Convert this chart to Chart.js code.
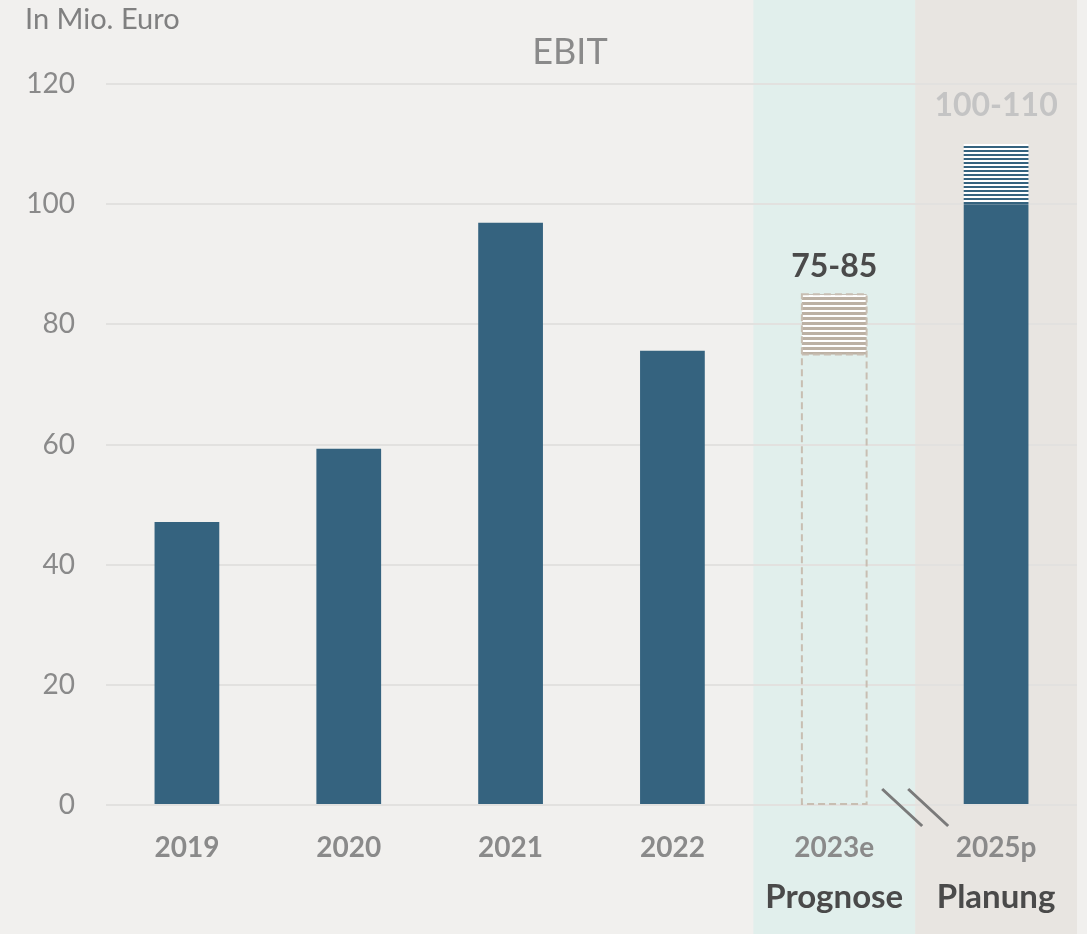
<!DOCTYPE html>
<html>
<head>
<meta charset="utf-8">
<script src="https://cdn.jsdelivr.net/npm/chart.js@4.4.0/dist/chart.umd.min.js"></script>
<style>
    body { margin: 0; background: #f1f0ee; }
    #ebit-wrap { width: 1087px; height: 934px; }
</style>
</head>
<body>
<div id="ebit-wrap"><canvas id="ebit-chart" width="1087" height="934"></canvas></div>
<script>
var years = ['2019', '2020', '2021', '2022', '2023e', '2025p'];
var yearNotes = ['', '', '', '', 'Prognose', 'Planung'];
var ebitValues = [47.1, 59.3, 96.9, 75.6, 75, 100];
var rangeLow = [null, null, null, null, 75, 100];
var rangeHigh = [null, null, null, null, 85, 110];
var rangeLabels = ['', '', '', '', '75-85', '100-110'];
var yTicks = [0, 20, 40, 60, 80, 100, 120];

var EbitChart;

function MakeStripes(fg, bg, fgSize, period) {
    var c = document.createElement('canvas');
    c.width = 8;
    c.height = period;
    var g = c.getContext('2d');
    g.fillStyle = bg;
    g.fillRect(0, 0, 8, period);
    g.fillStyle = fg;
    g.fillRect(0, period - fgSize, 8, fgSize);
    return document.getElementById('ebit-chart').getContext('2d').createPattern(c, 'repeat');
}

// background bands behind Prognose / Planung columns
var bandsPlugin = {
    id: 'bands',
    beforeDraw: function (chart) {
        var ctx = chart.ctx;
        var x = chart.scales.x;
        var step = x.getPixelForValue(1) - x.getPixelForValue(0);
        ctx.save();
        ctx.fillStyle = '#f1f0ee';
        ctx.fillRect(0, 0, chart.width, chart.height);
        ctx.fillStyle = '#e1efec';
        ctx.fillRect(x.getPixelForValue(4) - step / 2, 0, step, chart.height);
        ctx.fillStyle = '#e8e5e1';
        ctx.fillRect(x.getPixelForValue(5) - step / 2, 0, step, chart.height);
        ctx.restore();
    }
};

var extrasPlugin = {
    id: 'extras',
    afterDatasetsDraw: function (chart) {
        var ctx = chart.ctx;
        var baseBar = chart.getDatasetMeta(0).data[4];
        var topBar = chart.getDatasetMeta(1).data[4];
        var left = baseBar.x - baseBar.width / 2;

        // dashed outline for the 2023e forecast
        ctx.save();
        ctx.strokeStyle = '#c8beb2';
        ctx.lineWidth = 2;
        ctx.setLineDash([7, 4]);
        ctx.strokeRect(left, topBar.y, baseBar.width, baseBar.base - topBar.y);
        ctx.beginPath();
        ctx.moveTo(left, baseBar.y);
        ctx.lineTo(left + baseBar.width, baseBar.y);
        ctx.stroke();
        ctx.restore();

        // range labels
        ctx.save();
        ctx.textAlign = 'center';
        ctx.textBaseline = 'middle';
        ctx.font = 'bold 32px Lato';
        var meta = chart.getDatasetMeta(1);
        rangeLabels.forEach(function (txt, i) {
            if (!txt) return;
            var bar = meta.data[i];
            ctx.fillStyle = i === 4 ? '#4a4a4a' : '#c4c4c4';
            ctx.fillText(txt, bar.x, bar.y - (i === 4 ? 28 : 38));
        });
        ctx.restore();

        // axis break marks between 2023e and 2025p
        var x = chart.scales.x;
        var y = chart.scales.y;
        var bx = (x.getPixelForValue(4) + x.getPixelForValue(5)) / 2;
        var by = y.getPixelForValue(0);
        ctx.save();
        ctx.strokeStyle = '#7a7a7a';
        ctx.lineWidth = 3;
        ctx.beginPath();
        ctx.moveTo(bx - 33, by - 16);
        ctx.lineTo(bx + 7, by + 21);
        ctx.moveTo(bx - 7, by - 16);
        ctx.lineTo(bx + 33, by + 21);
        ctx.stroke();
        ctx.restore();

        // title and unit
        ctx.save();
        ctx.textBaseline = 'middle';
        ctx.fillStyle = '#8a8a8a';
        ctx.font = '36px Lato';
        ctx.textAlign = 'center';
        ctx.fillText('EBIT', 570, 52);
        ctx.fillStyle = '#808080';
        ctx.font = '29px Lato';
        ctx.textAlign = 'left';
        ctx.fillText('In Mio. Euro', 25, 20);
        ctx.restore();
    }
};

function LoadEbitChart() {
    var navy = '#35637f';
    var rangeDiff = rangeHigh.map(function (v, i) {
        return v === null ? null : v - rangeLow[i];
    });
    var baseColors = ebitValues.map(function (v, i) {
        return i === 4 ? 'rgba(0,0,0,0)' : navy;
    });
    var rangeColors = [null, null, null, null,
        MakeStripes('#bcb1a4', '#ffffff', 3, 5),
        MakeStripes(navy, '#ffffff', 2, 4)];

    var ctx = document.getElementById('ebit-chart');
    if (EbitChart) {
        EbitChart.destroy();
    }
    EbitChart = new Chart(ctx, {
        type: 'bar',
        data: {
            labels: years,
            datasets: [{
                label: 'EBIT',
                data: ebitValues,
                backgroundColor: baseColors,
                borderWidth: 0
            }, {
                label: 'Spanne',
                data: rangeDiff,
                backgroundColor: rangeColors,
                borderWidth: 0
            }]
        },
        plugins: [bandsPlugin, extrasPlugin],
        options: {
            responsive: false,
            animation: false,
            categoryPercentage: 1,
            barPercentage: 0.4,
            layout: {
                padding: { top: 84, right: 10, bottom: 17, left: 0 }
            },
            plugins: {
                legend: false,
                tooltip: { enabled: false }
            },
            scales: {
                x: {
                    stacked: true,
                    weight: 0,
                    afterFit: function (scale) {
                        scale.height = 58;
                    },
                    grid: { display: false, drawTicks: false },
                    border: { display: false },
                    ticks: {
                        color: '#8a8a8a',
                        padding: 26,
                        font: { family: 'Lato', size: 28, weight: 'bold' }
                    }
                },
                x2: {
                    type: 'category',
                    labels: yearNotes,
                    position: 'bottom',
                    offset: true,
                    weight: 1,
                    afterFit: function (scale) {
                        scale.height = 54;
                    },
                    grid: { display: false, drawTicks: false },
                    border: { display: false },
                    ticks: {
                        color: '#4a4a4a',
                        padding: 15,
                        autoSkip: false,
                        maxRotation: 0,
                        font: { family: 'Lato', size: 33, weight: 'bold' }
                    }
                },
                y: {
                    stacked: true,
                    min: 0,
                    max: 120,
                    afterFit: function (scale) {
                        scale.width = 106;
                    },
                    afterBuildTicks: function (scale) {
                        scale.ticks = yTicks.map(function (v) { return { value: v }; });
                    },
                    grid: { color: '#e2e1df', lineWidth: 2, drawTicks: false },
                    border: { display: false },
                    ticks: {
                        color: '#8a8a8a',
                        padding: 31,
                        font: { family: 'Lato', size: 28 }
                    }
                }
            }
        }
    });
}

LoadEbitChart();
</script>
</body>
</html>
